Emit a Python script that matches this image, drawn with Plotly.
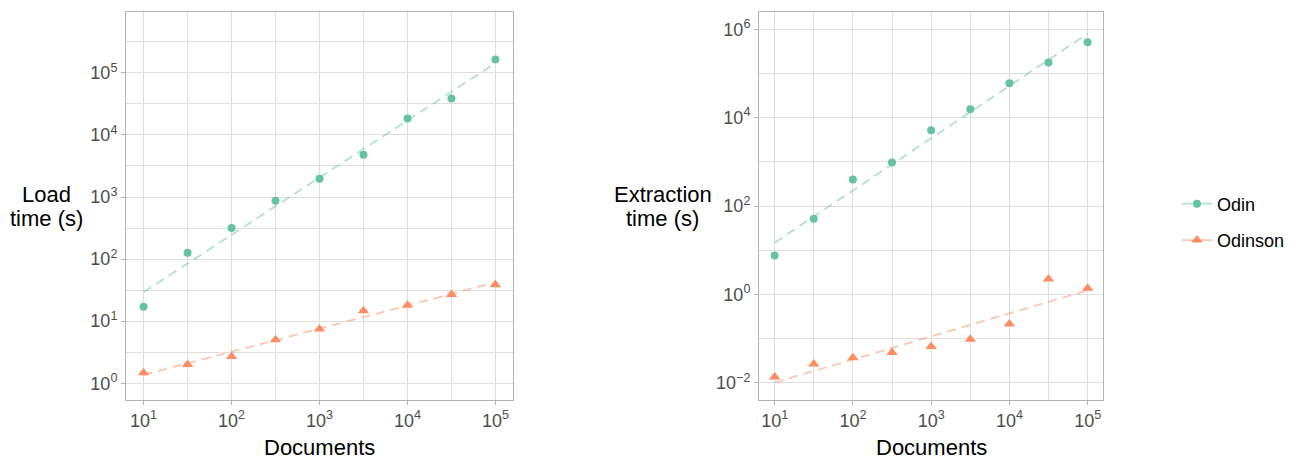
import numpy as np
import plotly.graph_objects as go

# page has an 8px body margin; work in page pixels and convert
OFF = 8
W, H = 1301 - OFF, 459 - OFF


def px(x):
    return (x - OFF) / W


def py(y):
    return 1 - (y - OFF) / H


documents = [10, 31.6, 100, 316, 1000, 3162, 10000, 31623, 100000]
load_odin = [17, 126, 316, 870, 1970, 4800, 18400, 38500, 164000]
load_odinson = [1.48, 2.0, 2.7, 5.0, 7.5, 14.7, 18, 27, 38.5]
extract_odin = [7.6, 52, 400, 970, 5200, 15500, 60000, 178000, 506000]
extract_odinson = [0.0137, 0.027, 0.037, 0.049, 0.067, 0.097, 0.217, 2.26, 1.39]

x_ticks = [10, 100, 1000, 10000, 100000]
x_ticktext = ["10<sup>1</sup>", "10<sup>2</sup>", "10<sup>3</sup>", "10<sup>4</sup>", "10<sup>5</sup>"]
x_minor = [31.6, 316, 3162, 31623]
load_yticks = [1, 10, 100, 1000, 10000, 100000]
load_yticktext = ["10<sup>0</sup>", "10<sup>1</sup>", "10<sup>2</sup>", "10<sup>3</sup>", "10<sup>4</sup>", "10<sup>5</sup>"]
load_yminor = [3.162, 31.62, 316.2, 3162, 31623, 316228]
ext_yticks = [0.01, 1, 100, 10000, 1000000]
ext_yticktext = ["10<sup>\u22122</sup>", "10<sup>0</sup>", "10<sup>2</sup>", "10<sup>4</sup>", "10<sup>6</sup>"]
ext_yminor = [0.1, 10, 1000, 100000]

GREEN = "#66C2A5"
ORANGE = "#FC8D62"
GREEN_L = "rgba(102,194,165,0.5)"
ORANGE_L = "rgba(252,141,98,0.5)"
FONT = "Liberation Sans, Arial, sans-serif"


def fit(xs, ys):
    lx, ly = np.log10(xs), np.log10(ys)
    b, a = np.polyfit(lx, ly, 1)
    gx = np.linspace(lx.min(), lx.max(), 80)
    return 10 ** gx, 10 ** (a + b * gx)


fig = go.Figure()

panels = [
    ("x", "y", load_odin, load_odinson),
    ("x2", "y2", extract_odin, extract_odinson),
]
for xa, ya, odin, odinson in panels:
    for vals, col, lcol, sym, sz in [
        (odin, GREEN, GREEN_L, "circle", 8),
        (odinson, ORANGE, ORANGE_L, "triangle-up", 10),
    ]:
        fx, fy = fit(np.array(documents), np.array(vals))
        fig.add_trace(go.Scatter(x=fx, y=fy, mode="lines", xaxis=xa, yaxis=ya,
                                 line=dict(color=lcol, width=1.8, dash="9px,6px"),
                                 showlegend=False, hoverinfo="skip"))
        fig.add_trace(go.Scatter(x=documents, y=vals, mode="markers", xaxis=xa, yaxis=ya,
                                 marker=dict(color=col, size=sz, symbol=sym),
                                 showlegend=False))

# legend entries
fig.add_trace(go.Scatter(x=[None], y=[None], mode="lines+markers", name="Odin",
                         line=dict(color=GREEN_L, width=1.8),
                         marker=dict(color=GREEN, size=8, symbol="circle"),
                         legendgroup="a"))
fig.add_trace(go.Scatter(x=[None], y=[None], mode="lines+markers", name="Odinson",
                         line=dict(color=ORANGE_L, width=1.8),
                         marker=dict(color=ORANGE, size=10, symbol="triangle-up"),
                         legendgroup="b"))

grid = "#DEDEDE"
border = "#B3B3B3"
common = dict(type="log", showline=True, mirror=True, linecolor=border, linewidth=1,
              showgrid=True, gridcolor=grid, gridwidth=1, zeroline=False,
              ticks="outside", ticklen=4, tickcolor=border,
              tickfont=dict(family=FONT, size=18, color="#4D4D4D"))

y0, y1 = py(400), py(12)
fig.update_layout(
    width=W, height=H,
    margin=dict(l=0, r=0, t=0, b=0),
    paper_bgcolor="white", plot_bgcolor="white",
    font=dict(family=FONT),
    xaxis=dict(domain=[px(126), px(513)], range=[0.8, 5.2], tickvals=x_ticks, ticktext=x_ticktext,
               minor=dict(tickvals=x_minor, showgrid=True, gridcolor=grid, ticks=""), anchor="y", **common),
    yaxis=dict(domain=[y0, y1], range=[-0.27, 5.98], tickvals=load_yticks, ticktext=load_yticktext,
               minor=dict(tickvals=load_yminor, showgrid=True, gridcolor=grid, ticks=""), anchor="x", **common),
    xaxis2=dict(domain=[px(759), px(1103.3)], range=[0.8, 5.2], tickvals=x_ticks, ticktext=x_ticktext,
                minor=dict(tickvals=x_minor, showgrid=True, gridcolor=grid, ticks=""), anchor="y2", **common),
    yaxis2=dict(domain=[y0, y1], range=[-2.385, 6.39], tickvals=ext_yticks, ticktext=ext_yticktext,
                minor=dict(tickvals=ext_yminor, showgrid=True, gridcolor=grid, ticks=""), anchor="x2", **common),
    legend=dict(x=px(1177), xanchor="left", y=py(222), yanchor="middle",
                font=dict(family=FONT, size=18, color="black"), tracegroupgap=10,
                bgcolor="rgba(0,0,0,0)"),
)

ann = [
    ("Load", 46.5, 195),
    ("time (s)", 46, 219),
    ("Extraction", 663, 195),
    ("time (s)", 663, 219),
    ("Documents", 319.5, 447),
    ("Documents", 931, 447),
]
for text, ax, ay in ann:
    fig.add_annotation(text=text, xref="paper", yref="paper", x=px(ax), y=py(ay),
                       xanchor="center", yanchor="middle", showarrow=False,
                       font=dict(family=FONT, size=22, color="black"))

fig.write_html("out.html")
